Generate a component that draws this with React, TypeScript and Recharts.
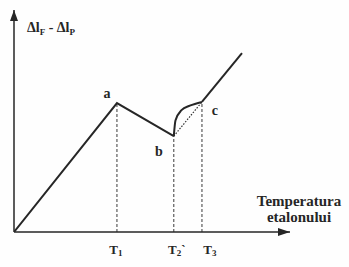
import {
  Label,
  Line,
  LineChart,
  ReferenceDot,
  ReferenceLine,
  XAxis,
  YAxis,
} from "recharts";

// schematic values, arbitrary units (0..100 on both axes)
const RISE_X = [0, 37.3, 57.9];
const RISE_Y = [0, 58.1, 43.2];
const CURVE_X = [57.9, 58.5, 60.7, 63.7, 68.1];
const CURVE_Y = [43.2, 50.2, 54.9, 56.9, 58.6];
const TAIL_X = [68.1, 82.6];
const TAIL_Y = [58.6, 80.6];

const TICK_X = [37.3, 57.9, 68.1];
const TICK_SUBS = ["1", "2", "3"];
const TICK_MARKS = ["", "`", ""];

const POINT_NAMES = ["a", "b", "c"];

const INK = "#262626";
const SERIF = {
  fontFamily: "'Liberation Serif', 'Times New Roman', 'DejaVu Serif', serif",
  fontWeight: 700,
};

const pts = (xs: number[], ys: number[]) => xs.map((x, i) => ({ x, y: ys[i] }));

const rise = pts(RISE_X, RISE_Y);
const curve = pts(CURVE_X, CURVE_Y);
const tail = pts(TAIL_X, TAIL_Y);
const keyPoints = [rise[1], rise[2], curve[curve.length - 1]];

// where each letter sits relative to its point
const LETTER_OFFSET = [
  [-10, -5],
  [-15, 20],
  [13, 13],
];

function TempTick(props: any) {
  const { x, y, payload } = props;
  const i = TICK_X.indexOf(payload.value);
  const shift = i === 0 ? -1 : i === 1 ? 3 : 8;
  return (
    <text
      x={x + shift}
      y={y + 22}
      textAnchor="middle"
      style={SERIF}
      fontSize={13}
      fill={INK}
    >
      T
      <tspan fontSize={9} dy={2}>
        {TICK_SUBS[i]}
      </tspan>
      <tspan dy={-2}>{TICK_MARKS[i]}</tspan>
    </text>
  );
}

export default function App() {
  return (
    <div style={{ position: "absolute", left: 0, top: 0, background: "#fefefe" }}>
      <LineChart
        width={349}
        height={267}
        margin={{ top: 10, right: 59, bottom: 0, left: 13 }}
      >
        <XAxis
          type="number"
          dataKey="x"
          domain={[0, 100]}
          ticks={TICK_X}
          interval={0}
          tick={<TempTick />}
          tickLine={false}
          tickSize={0}
          tickMargin={0}
          height={35}
          axisLine={{ stroke: INK, strokeWidth: 1.5 }}
          allowDataOverflow
        >
          <Label
            content={(p: any) => {
              const vb = p.viewBox;
              const cx = vb.x + vb.width + 9;
              return (
                <text textAnchor="middle" style={SERIF} fontSize={15} fill={INK}>
                  <tspan x={cx} y={vb.y - 26}>
                    Temperatura
                  </tspan>
                  <tspan x={cx} y={vb.y - 10}>
                    etalonului
                  </tspan>
                </text>
              );
            }}
          />
        </XAxis>
        <YAxis
          type="number"
          dataKey="y"
          domain={[0, 100]}
          width={1}
          tick={false}
          tickLine={false}
          axisLine={{ stroke: INK, strokeWidth: 1.5 }}
          allowDataOverflow
        >
          <Label
            content={(p: any) => {
              const vb = p.viewBox;
              return (
                <text
                  x={vb.x + vb.width + 13}
                  y={vb.y + 22}
                  style={SERIF}
                  fontSize={14}
                  fill={INK}
                >
                  Δl
                  <tspan fontSize={9} dy={3}>
                    F
                  </tspan>
                  <tspan dy={-3}> - Δl</tspan>
                  <tspan fontSize={9} dy={3}>
                    P
                  </tspan>
                </text>
              );
            }}
          />
        </YAxis>

        {keyPoints.map((p, i) => (
          <ReferenceLine
            key={"v" + i}
            segment={[
              { x: p.x, y: 0 },
              { x: p.x, y: p.y },
            ]}
            stroke="#3a3a3a"
            strokeWidth={1}
            strokeDasharray="3 2"
          />
        ))}
        <ReferenceLine
          segment={[keyPoints[1], keyPoints[2]]}
          stroke="#333"
          strokeWidth={1.2}
          strokeDasharray="1.5 1.5"
        />

        <Line
          data={rise}
          dataKey="y"
          type="linear"
          stroke={INK}
          strokeWidth={2}
          dot={false}
          isAnimationActive={false}
        />
        <Line
          data={curve}
          dataKey="y"
          type="monotone"
          stroke={INK}
          strokeWidth={2}
          dot={false}
          isAnimationActive={false}
        />
        <Line
          data={tail}
          dataKey="y"
          type="linear"
          stroke={INK}
          strokeWidth={2}
          dot={false}
          isAnimationActive={false}
        />

        {keyPoints.map((p, i) => (
          <ReferenceDot
            key={"l" + i}
            x={p.x}
            y={p.y}
            ifOverflow="visible"
            shape={(s: any) => (
              <text
                x={s.cx + LETTER_OFFSET[i][0]}
                y={s.cy + LETTER_OFFSET[i][1]}
                textAnchor="middle"
                style={SERIF}
                fontSize={14}
                fill={INK}
              >
                {POINT_NAMES[i]}
              </text>
            )}
          />
        ))}

        {/* arrow heads at the axis ends */}
        <ReferenceDot
          x={0}
          y={100}
          ifOverflow="visible"
          shape={(s: any) => (
            <polygon
              points={`${s.cx},${s.cy} ${s.cx - 4},${s.cy + 11} ${s.cx + 4},${s.cy + 11}`}
              fill={INK}
            />
          )}
        />
        <ReferenceDot
          x={100}
          y={0}
          ifOverflow="visible"
          shape={(s: any) => (
            <polygon
              points={`${s.cx},${s.cy} ${s.cx - 12},${s.cy - 4} ${s.cx - 12},${s.cy + 4}`}
              fill={INK}
            />
          )}
        />
      </LineChart>
    </div>
  );
}
